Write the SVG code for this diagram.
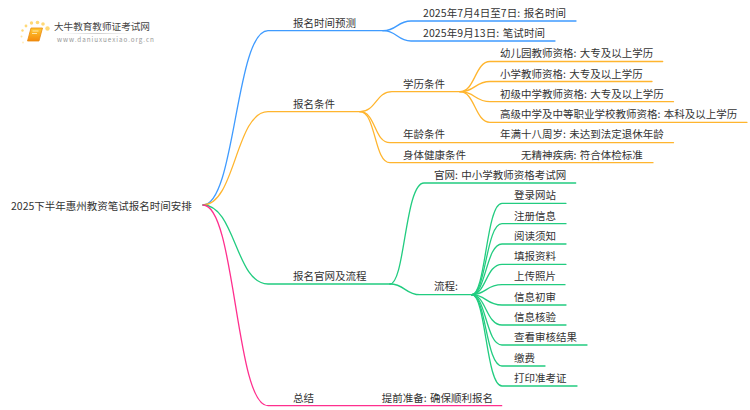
<svg xmlns="http://www.w3.org/2000/svg" width="750" height="410" viewBox="0 0 750 410">
<style>
text{font-family:"Noto Sans CJK SC","Liberation Sans",sans-serif;font-size:10.5px;word-spacing:1px;fill:#333}
.c path{fill:none;stroke-width:1.3;stroke-linecap:round}
.b path{stroke:#3f9bff}.o path{stroke:#ffb52e}.g path{stroke:#22cc80}.p path{stroke:#ff2f8e}
</style>
<defs>
<linearGradient id="bk" x1="0" y1="0" x2="0" y2="1"><stop offset="0" stop-color="#ffc933"/><stop offset="1" stop-color="#f58a0b"/></linearGradient>
<linearGradient id="ul" x1="0" y1="0" x2="1" y2="0"><stop offset="0" stop-color="#ddd" stop-opacity="0"/><stop offset=".5" stop-color="#ccc"/><stop offset="1" stop-color="#ddd" stop-opacity="0"/></linearGradient>
</defs>
<rect width="750" height="410" fill="#fff"/>
<g id="logo">
<g fill="#ffd977"><circle cx="47.500" cy="28.500" r="2.200"/><circle cx="43" cy="24" r="1.800"/><circle cx="37.500" cy="22.500" r="1.800"/><circle cx="31.500" cy="23" r="1.700"/><circle cx="26" cy="26" r="1.400"/><circle cx="22.500" cy="30.500" r="1.200"/><circle cx="21.500" cy="36.500" r="1" opacity=".7"/><circle cx="23" cy="42.500" r=".9" opacity=".5"/></g>
<path d="M31 28h11.500l-3.500 13h-11.500z" fill="url(#bk)" stroke="#e88a10" stroke-width=".8" stroke-linejoin="round"/>
<path d="M32.500 31h6M32 33.500h5" stroke="#fff3c9" stroke-width=".8" fill="none"/>
<rect x="60" y="33" width="74" height="1" fill="url(#ul)"/>
<text x="54" y="30" style="font-size:9.600px;fill:#444">大牛教育教师证考试网</text>
<text x="57" y="42" style="font-size:6.300px;letter-spacing:.95px;fill:#999">www.daniuxuexiao.org.cn</text>
</g>
<g id="connectors" class="c">
<g class="b">
<path d="M203 205C235.500 205 235.500 30.700 268 30.700H383"/>
<path d="M383 30.700C397 30.700 397 21 411 21H576"/>
<path d="M383 30.700C397 30.700 397 41 411 41H555"/>
</g>
<g class="o">
<path d="M203 205C235.500 205 235.500 111.700 268 111.700H360"/>
<path d="M360 111.700C376 111.700 376 91.700 392 91.700H460"/>
<path d="M360 111.700C376 111.700 374 142.700 390 142.700H673.500"/>
<path d="M360 111.700C376 111.700 374 162.700 390 162.700H653"/>
<path d="M460 91.700C475 91.700 475 61.500 490 61.500H662.700"/>
<path d="M460 91.700C475 91.700 475 81.500 490 81.500H652"/>
<path d="M460 91.700C475 91.700 475 101.700 490 101.700H673.500"/>
<path d="M460 91.700C475 91.700 475 122.300 490 122.300H747"/>
</g>
<g class="g">
<path d="M203 205C235.500 205 235.500 284 268 284H390"/>
<path d="M390 284C405 284 405 183 424 183H575.700"/>
<path d="M390 284C405 284 405 294.700 420 294.700H471.700"/>
<path d="M471.700 294.700C486 294.700 486 203.300 502 203.300H566"/>
<path d="M471.700 294.700C486 294.700 486 223.700 502 223.700H566"/>
<path d="M471.700 294.700C486 294.700 486 244 502 244H566"/>
<path d="M471.700 294.700C486 294.700 486 264.300 502 264.300H566"/>
<path d="M471.700 294.700C486 294.700 486 284.700 502 284.700H565"/>
<path d="M471.700 294.700C486 294.700 486 305 502 305H566"/>
<path d="M471.700 294.700C486 294.700 486 325 502 325H566"/>
<path d="M471.700 294.700C486 294.700 486 345 502 345H587"/>
<path d="M471.700 294.700C486 294.700 486 366 502 366H545"/>
<path d="M471.700 294.700C486 294.700 486 386 502 386H577"/>
</g>
<g class="p">
<path d="M203 205C235.500 205 235.500 405.700 268 405.700H501.700"/>
</g>
</g>
<g id="root"><text x="11" y="209.500">2025下半年惠州教资笔试报名时间安排</text></g>
<g id="n1"><text x="293" y="27">报名时间预测</text></g>
<g id="n1a"><text x="423" y="17" textLength="143" lengthAdjust="spacing">2025年7月4日至7日: 报名时间</text></g>
<g id="n1b"><text x="423" y="37" textLength="122" lengthAdjust="spacing">2025年9月13日: 笔试时间</text></g>
<g id="n2"><text x="293" y="108">报名条件</text></g>
<g id="n2a"><text x="403" y="88">学历条件</text></g>
<g id="n2a1"><text x="500" y="57">幼儿园教师资格: 大专及以上学历</text></g>
<g id="n2a2"><text x="500" y="77.500">小学教师资格: 大专及以上学历</text></g>
<g id="n2a3"><text x="500" y="98">初级中学教师资格: 大专及以上学历</text></g>
<g id="n2a4"><text x="500" y="118">高级中学及中等职业学校教师资格: 本科及以上学历</text></g>
<g id="n2b"><text x="403" y="138">年龄条件</text></g>
<g id="n2b1"><text x="500" y="138">年满十八周岁: 未达到法定退休年龄</text></g>
<g id="n2c"><text x="403" y="159">身体健康条件</text></g>
<g id="n2c1"><text x="521" y="159">无精神疾病: 符合体检标准</text></g>
<g id="n3"><text x="293" y="280">报名官网及流程</text></g>
<g id="n3a"><text x="434" y="179">官网: 中小学教师资格考试网</text></g>
<g id="n3b"><text x="434" y="290">流程:</text></g>
<g id="s1"><text x="514" y="199">登录网站</text></g>
<g id="s2"><text x="514" y="219.500">注册信息</text></g>
<g id="s3"><text x="514" y="240">阅读须知</text></g>
<g id="s4"><text x="514" y="260">填报资料</text></g>
<g id="s5"><text x="514" y="280">上传照片</text></g>
<g id="s6"><text x="514" y="301">信息初审</text></g>
<g id="s7"><text x="514" y="321">信息核验</text></g>
<g id="s8"><text x="514" y="341">查看审核结果</text></g>
<g id="s9"><text x="514" y="361.500">缴费</text></g>
<g id="s10"><text x="514" y="382">打印准考证</text></g>
<g id="n4"><text x="293" y="401.500">总结</text></g>
<g id="n4a"><text x="381.700" y="401.500">提前准备: 确保顺利报名</text></g>
</svg>
